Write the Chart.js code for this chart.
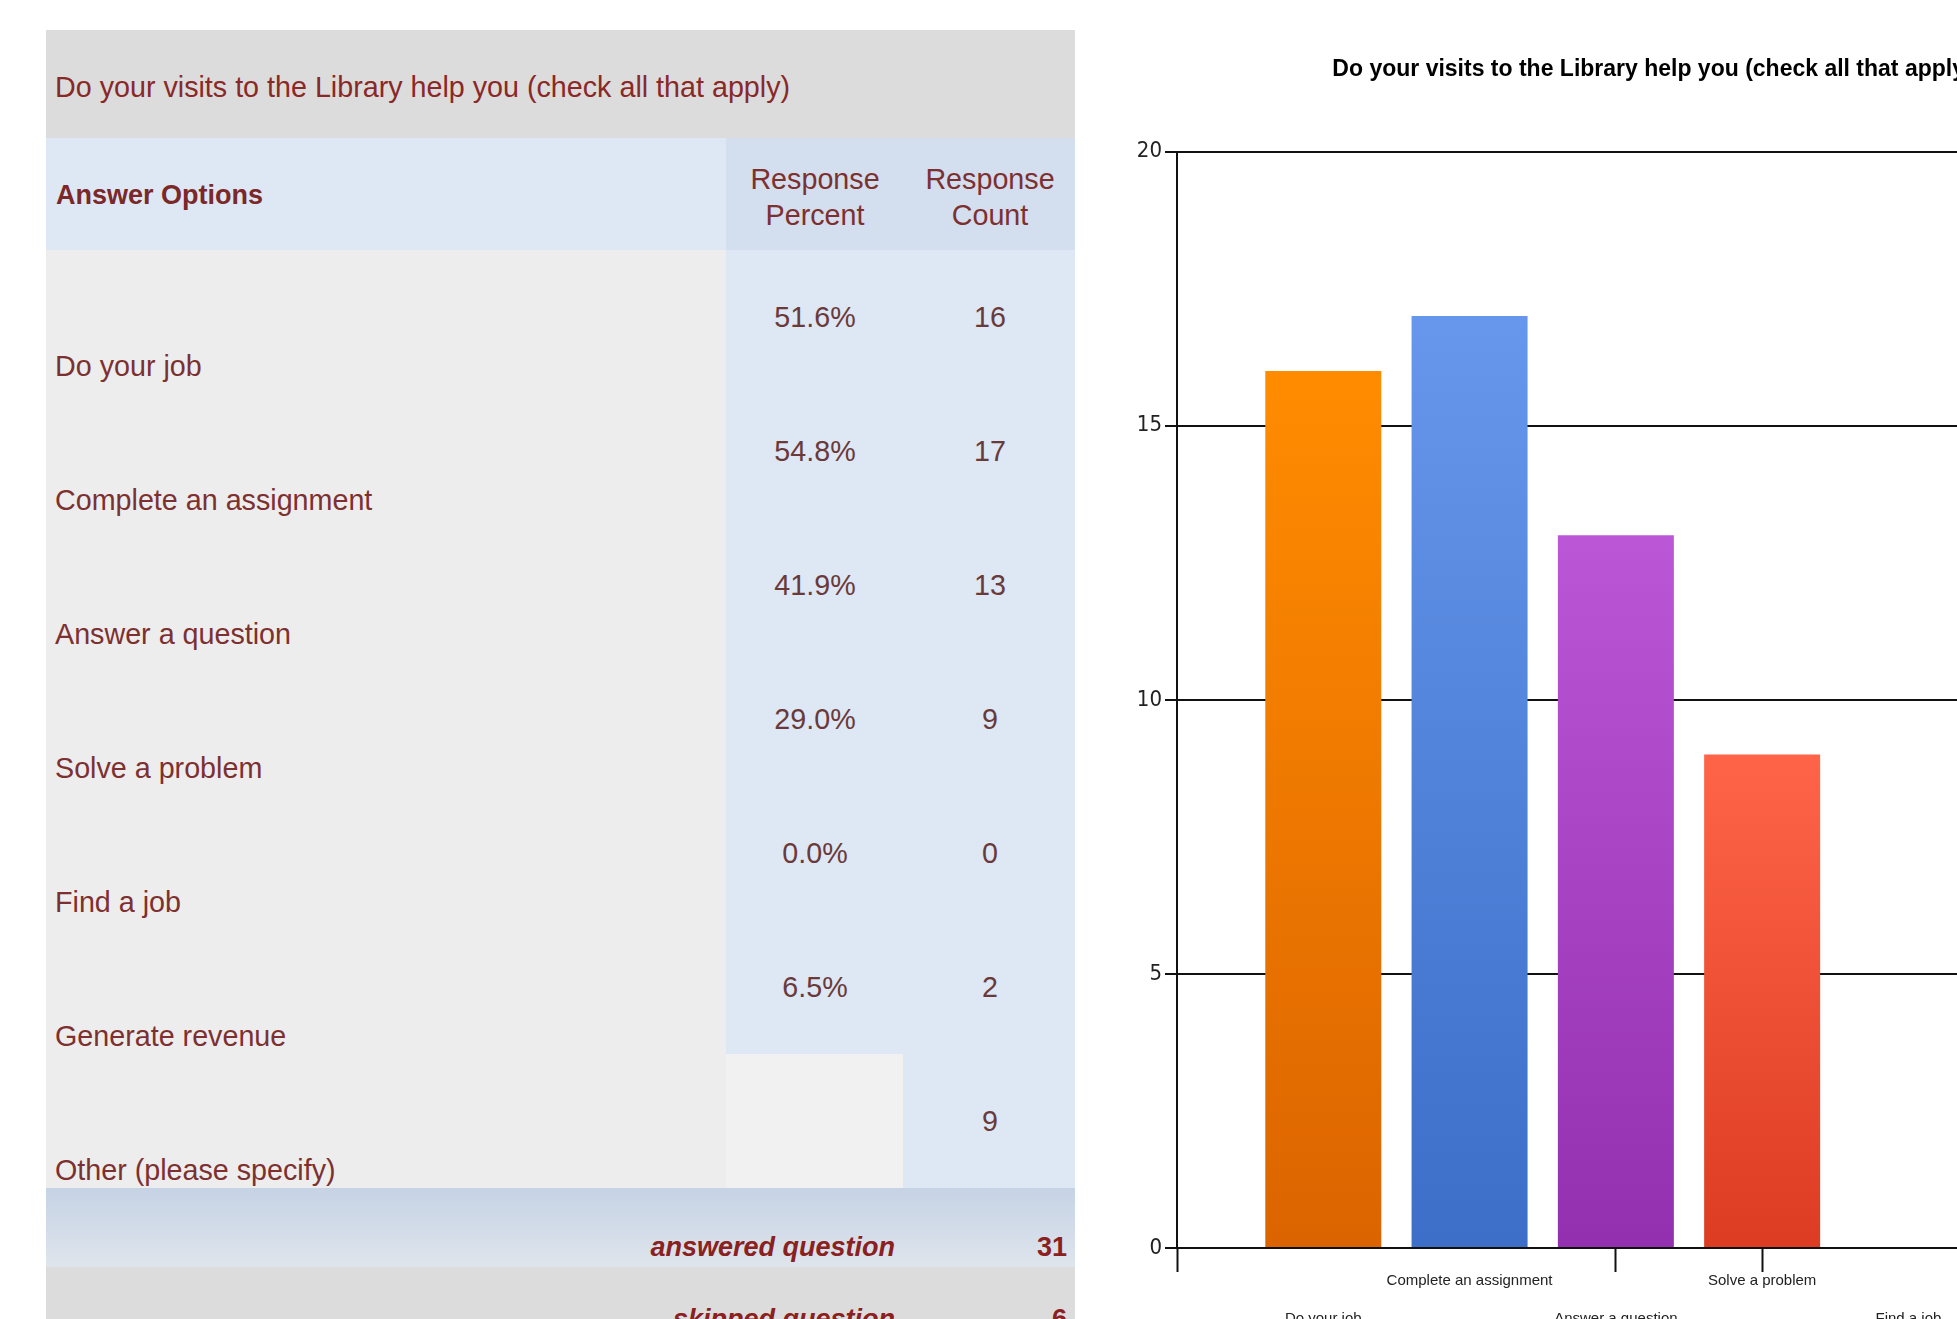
<!DOCTYPE html>
<html>
<head>
<meta charset="UTF-8">
<title>Do your visits to the Library help you (check all that apply)</title>
<script src="https://cdn.jsdelivr.net/npm/chart.js"></script>
<style>
    html, body { margin: 0; padding: 0; background: #fff; }
    body { width: 1957px; height: 1319px; overflow: hidden; position: relative; font-family: 'Liberation Sans', Arial, sans-serif; }
    .cell { position: absolute; box-sizing: border-box; }
    .txt { position: absolute; white-space: nowrap; font-size: 28.7px; color: #7d3030; line-height: 1; }
    #chartBox { position: absolute; left: 1104px; top: 0; width: 1136px; height: 1340px; }
</style>
</head>
<body>
    <div id="table"></div>
    <div id="chartBox"><canvas id="myChart"></canvas></div>

    <script>
        // table and chart data
        const questionTitle = 'Do your visits to the Library help you (check all that apply)';
        const answerOptions = ['Do your job', 'Complete an assignment', 'Answer a question', 'Solve a problem', 'Find a job', 'Generate revenue', 'Other (please specify)'];
        const responsePercent = ['51.6%', '54.8%', '41.9%', '29.0%', '0.0%', '6.5%', ''];
        const responseCount = [16, 17, 13, 9, 0, 2, 9];
        const answeredQuestion = 31;
        const skippedQuestion = 6;

        const categories = answerOptions.slice(0, 6);
        const counts = responseCount.slice(0, 6);
        const yTicks = [0, 5, 10, 15, 20];

        // bar colours, top and bottom of the gradient
        const topColors = ['#ff8c00', '#6697ec', '#bb56d6', '#ff6448', '#5cb85c', '#f0c419'];
        const bottomColors = ['#dc6400', '#3d6ec8', '#9330b0', '#dc3c22', '#3e8e3e', '#d4a500'];

        // ---- the table, built as plain html ----
        const table = document.getElementById('table');
        function box(x, y, w, h, bg) {
            const d = document.createElement('div');
            d.className = 'cell';
            d.style.left = x + 'px'; d.style.top = y + 'px';
            d.style.width = w + 'px'; d.style.height = h + 'px';
            d.style.background = bg;
            table.appendChild(d);
        }
        function text(str, x, cy, align, extra) {
            const t = document.createElement('div');
            t.className = 'txt';
            t.textContent = str;
            t.style.top = (cy - 15) + 'px';
            if (align === 'center') { t.style.left = (x - 200) + 'px'; t.style.width = '400px'; t.style.textAlign = 'center'; }
            else if (align === 'right') { t.style.left = (x - 400) + 'px'; t.style.width = '400px'; t.style.textAlign = 'right'; }
            else { t.style.left = x + 'px'; }
            Object.assign(t.style, extra || {});
            table.appendChild(t);
        }

        const L = 46, R = 1075, splitA = 726, splitB = 903, rowH = 134, rowTop = 250;
        box(L, 30, R - L, 108, '#dcdcdc');
        text(questionTitle, 55, 88, 'left', { color: '#8a2828' });
        box(L, 138, splitA - L, 112, '#dee7f4');
        box(splitA, 138, R - splitA, 112, '#d3deee');
        text('Answer Options', 56, 197, 'left', { fontWeight: 'bold', fontSize: '27px', color: '#7a2828' });
        text('Response', 815, 180, 'center'); text('Percent', 815, 216, 'center');
        text('Response', 990, 180, 'center'); text('Count', 990, 216, 'center');

        answerOptions.forEach((opt, i) => {
            const top = rowTop + rowH * i;
            box(L, top, splitA - L, rowH, '#ededed');
            box(splitA, top, splitB - splitA, rowH, responsePercent[i] ? '#dee7f4' : '#f1f1f1');
            box(splitB, top, R - splitB, rowH, '#dee7f4');
            text(opt, 55, top + 117, 'left');
            if (responsePercent[i]) text(responsePercent[i], 815, top + 68, 'center', { color: '#6a3a3a' });
            text(String(responseCount[i]), 990, top + 68, 'center', { color: '#6a3a3a' });
        });

        const footTop = rowTop + rowH * answerOptions.length;
        const foot = document.createElement('div');
        foot.className = 'cell';
        Object.assign(foot.style, { left: L + 'px', top: footTop + 'px', width: (R - L) + 'px', height: '79px',
            background: 'linear-gradient(#c6d3e5, #d4dde9 60%, #dfe5ec)' });
        table.appendChild(foot);
        box(L, footTop + 79, R - L, 80, '#dcdcdc');
        const footStyle = { fontWeight: 'bold', fontStyle: 'italic', fontSize: '27px', color: '#8a2020' };
        const footNum = { fontWeight: 'bold', fontSize: '27px', color: '#8a2020' };
        text('answered question', 895, footTop + 61, 'right', footStyle);
        text(String(answeredQuestion), 1067, footTop + 61, 'right', footNum);
        text('skipped question', 895, footTop + 133, 'right', footStyle);
        text(String(skippedQuestion), 1067, footTop + 133, 'right', footNum);

        // ---- the bar chart ----
        const sans = "'Liberation Sans', Arial, sans-serif";
        const condensed = "'DejaVu Sans Condensed', 'Liberation Sans', sans-serif";

        function barFill(ctx) {
            const chart = ctx.chart;
            const i = ctx.dataIndex;
            const y = chart.scales && chart.scales.y;
            if (!chart.chartArea || !y) return topColors[i];
            const g = chart.ctx.createLinearGradient(0, y.getPixelForValue(counts[i]), 0, y.getPixelForValue(0));
            g.addColorStop(0, topColors[i]);
            g.addColorStop(1, bottomColors[i]);
            return g;
        }

        // tick marks under the x axis: the axis foot and two category ticks
        const shownTicks = [0, 3, 4];

        const ctx = document.getElementById('myChart').getContext('2d');
        new Chart(ctx, {
            type: 'bar',
            data: {
                datasets: [{
                    data: counts.map((c, i) => ({ x: i + 1, y: c })),
                    backgroundColor: barFill,
                    borderWidth: 0,
                    categoryPercentage: 1,
                    barPercentage: 0.793
                }]
            },
            options: {
                responsive: true,
                maintainAspectRatio: false,
                animation: false,
                layout: { padding: { left: 0, right: 39, top: 0, bottom: 0 } },
                scales: {
                    x: {
                        type: 'linear',
                        offset: false,
                        min: 0,
                        max: categories.length + 1,
                        afterFit: s => { s.height = 92; },
                        afterBuildTicks: s => { s.ticks = [0, ...categories.map((c, i) => i + 1)].map(v => ({ value: v })); },
                        grid: {
                            offset: false,
                            drawOnChartArea: false,
                            drawTicks: true,
                            tickLength: 24,
                            tickWidth: 2,
                            tickColor: c => shownTicks.includes(c.tick.value) ? '#111' : 'rgba(0,0,0,0)'
                        },
                        border: { color: '#111', width: 2 },
                        ticks: {
                            autoSkip: false,
                            maxRotation: 0,
                            padding: -10,
                            color: '#222',
                            font: { family: sans, size: 15, lineHeight: 2.53 },
                            callback: v => {
                                if (v < 1) return '';
                                const label = categories[v - 1] || '';
                                return (v - 1) % 2 === 0 ? ['', label] : [label];
                            }
                        }
                    },
                    y: {
                        min: 0,
                        max: 20,
                        afterFit: s => { s.width = 73; },
                        afterBuildTicks: s => { s.ticks = yTicks.map(v => ({ value: v })); },
                        grid: { color: '#111', lineWidth: 2, tickLength: 12 },
                        border: { color: '#111', width: 2 },
                        ticks: {
                            padding: 3,
                            color: '#222',
                            font: { family: condensed, size: 22 }
                        }
                    }
                },
                plugins: {
                    legend: { display: false },
                    tooltip: { enabled: false },
                    title: {
                        display: true,
                        text: questionTitle,
                        color: '#000',
                        padding: { top: 56, bottom: 68 },
                        font: { family: sans, size: 23, weight: 'bold', lineHeight: 1.2 }
                    }
                }
            }
        });
    </script>
</body>
</html>
